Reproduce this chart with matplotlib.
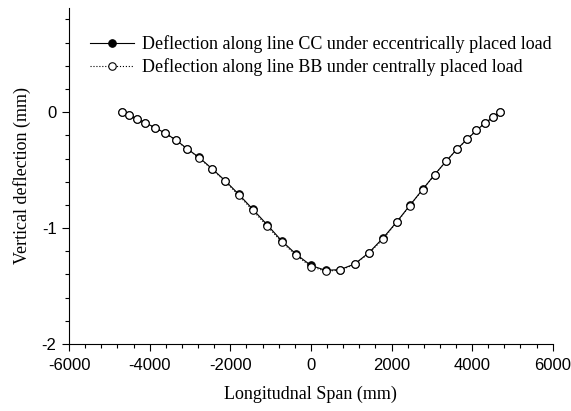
import matplotlib.pyplot as plt
from matplotlib.ticker import MultipleLocator

plt.rcParams["axes.unicode_minus"] = False

# node positions along the span (mm)
span_mm = [-4690, -4516, -4323, -4107, -3871, -3623, -3355, -3072, -2774, -2452,
           -2131, -1792, -1441, -1084, -725, -366, 0, 366, 725, 1084, 1441, 1792,
           2131, 2452, 2774, 3072, 3355, 3623, 3871, 4107, 4323, 4516, 4690]

# line BB, centrally placed load (mm)
defl_bb = [0.0, -0.026, -0.058, -0.092, -0.135, -0.180, -0.241, -0.318, -0.395,
           -0.493, -0.596, -0.716, -0.848, -0.983, -1.120, -1.235, -1.332, -1.372,
           -1.363, -1.314, -1.216, -1.093, -0.951, -0.808, -0.668, -0.539, -0.424,
           -0.321, -0.235, -0.158, -0.092, -0.046, -0.003]

# line CC, eccentrically placed load (mm)
defl_cc = [0.0, -0.026, -0.057, -0.091, -0.134, -0.179, -0.239, -0.315, -0.391,
           -0.488, -0.590, -0.708, -0.838, -0.972, -1.110, -1.226, -1.322, -1.365,
           -1.358, -1.310, -1.212, -1.085, -0.946, -0.805, -0.666, -0.538, -0.423,
           -0.320, -0.235, -0.158, -0.092, -0.046, -0.003]

label_cc = "Deflection along line CC under eccentrically placed load"
label_bb = "Deflection along line BB under centrally placed load"

serif = "Liberation Serif"
sans = "Liberation Sans"

fig = plt.figure(figsize=(5.71, 4.11), dpi=100)
ax = fig.add_axes([0.121, 0.163, 0.847, 0.818])

ax.plot(span_mm, defl_cc, "-", color="black", lw=0.8, marker="o", ms=5.4,
        mfc="black", mec="black", mew=0.8, label=label_cc)
ax.plot(span_mm, defl_bb, ":", color="black", lw=0.8, marker="o", ms=5.4,
        mfc="white", mec="black", mew=0.8, label=label_bb)

ax.set_xlim(-6000, 6000)
ax.set_ylim(-2, 0.9)
ax.xaxis.set_major_locator(MultipleLocator(2000))
ax.xaxis.set_minor_locator(MultipleLocator(400))
ax.yaxis.set_major_locator(MultipleLocator(1))
ax.yaxis.set_minor_locator(MultipleLocator(0.2))

for side in ("top", "right"):
    ax.spines[side].set_visible(False)
for side in ("left", "bottom"):
    ax.spines[side].set_linewidth(0.8)

ax.tick_params(which="major", direction="out", length=5, width=0.8,
               labelsize=12)
ax.tick_params(axis="x", which="major", pad=5)
ax.tick_params(axis="y", which="major", pad=4)
ax.tick_params(which="minor", direction="out", length=3, width=0.8)
for lbl in ax.get_xticklabels() + ax.get_yticklabels():
    lbl.set_fontfamily(sans)

ax.set_xlabel("Longitudnal Span (mm)", fontfamily=serif, fontsize=13, labelpad=9)
ax.set_ylabel("Vertical deflection (mm)", fontfamily=serif, fontsize=13, labelpad=8)

ax.legend(loc="upper left", bbox_to_anchor=(0.018, 0.955), frameon=False,
          prop={"family": serif, "size": 13}, handlelength=2.4,
          handletextpad=0.45, labelspacing=0.25, borderaxespad=0.3)

fig.savefig("out.png", dpi=100)
